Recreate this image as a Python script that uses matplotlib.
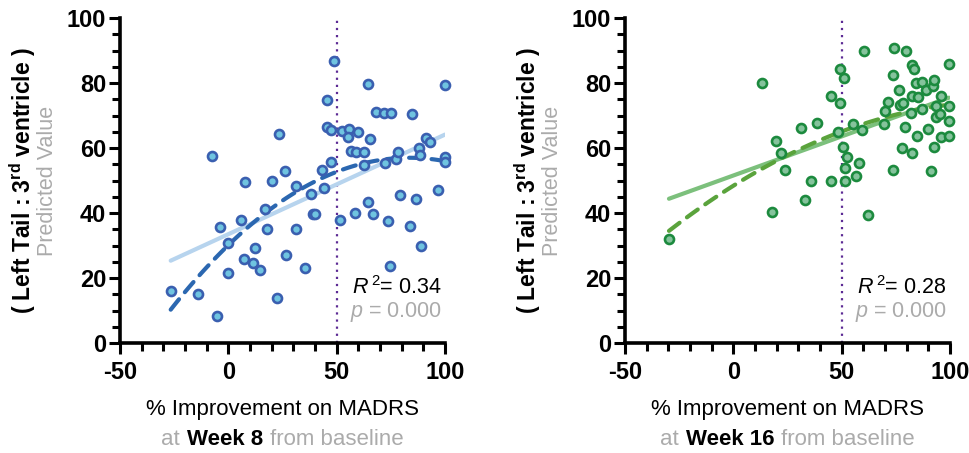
import matplotlib
matplotlib.use("Agg")
import matplotlib.pyplot as plt
import numpy as np
from matplotlib.offsetbox import TextArea, HPacker, AnnotationBbox

plt.rcParams["font.family"] = ["Liberation Sans", "DejaVu Sans"]
plt.rcParams["mathtext.fontset"] = "custom"
plt.rcParams["mathtext.rm"] = "Liberation Sans"
plt.rcParams["mathtext.it"] = "Liberation Sans:italic"
plt.rcParams["mathtext.bf"] = "Liberation Sans:bold"
plt.rcParams["axes.unicode_minus"] = False

# ── Data: week 8 ─────────────────────────────────────────────────────────────
wk8_x = [-26.6, -14.2, -5.3, -7.6, -3.9, 0.0, 0.0, 5.9, 7.9, 7.1, 11.3, 12.5,
         14.8, 16.8, 17.8, 20.1, 22.3, 23.2, 26.1, 26.6, 31.4, 31.4, 35.3,
         38.3, 39.1, 40.2, 43.3, 44.1, 45.6, 45.6, 47.2, 47.6, 48.6, 51.5,
         52.3, 55.6, 55.4, 56.5, 58.8, 60.0, 62.6, 62.6, 64.6, 64.6, 65.2,
         58.6, 66.6, 68.0, 71.9, 75.1, 72.1, 73.5, 74.7, 77.6, 78.1, 79.3,
         84.6, 83.7, 86.7, 87.8, 88.6, 89.1, 91.2, 93.2, 96.6, 100.0, 100.0,
         100.0]
wk8_y = [16.0, 15.0, 8.2, 57.5, 35.6, 30.8, 21.6, 37.9, 49.5, 25.7, 24.7, 29.3,
         22.4, 41.1, 35.0, 50.0, 14.0, 64.4, 53.0, 27.2, 48.4, 35.0, 23.1,
         45.8, 39.7, 39.8, 53.1, 47.6, 74.8, 66.4, 65.6, 55.6, 86.7, 38.0,
         65.1, 65.8, 63.5, 59.2, 58.7, 65.0, 58.9, 54.9, 79.7, 43.3, 62.9,
         39.9, 39.7, 71.2, 70.7, 70.7, 55.5, 37.6, 23.7, 56.5, 58.9, 45.5,
         70.4, 36.0, 44.3, 59.9, 57.9, 29.9, 63.2, 61.7, 47.1, 79.4, 57.1,
         55.6]

# ── Data: week 16 ────────────────────────────────────────────────────────────
wk16_x = [-29.7, 13.1, 18.0, 19.5, 21.8, 23.7, 31.1, 32.9, 36.0, 38.8, 44.9,
          45.1, 48.2, 49.4, 49.4, 51.2, 50.8, 52.5, 51.5, 51.7, 55.2, 56.5,
          58.0, 59.5, 60.3, 62.3, 69.5, 69.8, 71.5, 73.7, 73.7, 74.0, 76.5,
          76.8, 78.3, 78.0, 79.1, 79.5, 82.2, 82.6, 82.6, 83.4, 82.6, 84.5,
          84.9, 85.4, 86.9, 87.2, 89.1, 89.7, 91.4, 92.2, 92.5, 92.5, 93.4,
          93.4, 95.7, 95.4, 96.0, 99.5, 99.5, 99.5, 99.5]
wk16_y = [32.1, 80.0, 40.2, 62.1, 58.5, 53.3, 66.2, 44.1, 49.7, 67.7, 49.7,
          76.1, 64.9, 73.8, 84.3, 81.4, 60.3, 57.1, 53.8, 49.7, 67.4, 51.5,
          55.4, 65.6, 89.7, 39.5, 67.5, 71.3, 74.3, 53.3, 82.6, 90.7, 77.7,
          73.3, 73.8, 60.0, 66.4, 89.7, 70.8, 58.5, 85.4, 84.4, 75.9, 80.0,
          63.8, 75.7, 72.1, 80.2, 77.7, 65.8, 52.8, 79.2, 80.8, 60.3, 72.8,
          69.5, 75.9, 70.6, 63.4, 85.9, 72.8, 68.2, 63.8]

panels = [
    dict(x=wk8_x, y=wk8_y, week="Week 8", r2="0.34",
         face="#6fc4e0", edge="#3a5fb0", lin="#b7d4ee", quad="#2b67b0"),
    dict(x=wk16_x, y=wk16_y, week="Week 16", r2="0.28",
         face="#85c39c", edge="#1c8a3e", lin="#7cc07c", quad="#5aa33c"),
]
axes_left = [120 / 970, 625 / 970]
GREY = "#ababab"

fig = plt.figure(figsize=(9.7, 4.53), dpi=100)

for p, left in zip(panels, axes_left):
    ax = fig.add_axes([left, 110 / 453, 325 / 970, 325 / 453])
    x = np.array(p["x"])
    y = np.array(p["y"])

    # fitted lines (linear = light solid, quadratic = dashed)
    xs = np.linspace(x.min(), x.max(), 100)
    lin = np.polyfit(x, y, 1)
    quad = np.polyfit(x, y, 2)
    ax.plot(xs, np.polyval(lin, xs), color=p["lin"], lw=3, solid_capstyle="round", zorder=2)
    ax.plot(xs, np.polyval(quad, xs), color=p["quad"], lw=3, ls=(0, (3.2, 2.2)),
            dash_capstyle="round", zorder=2)

    ax.axvline(50, color="#5c2a94", lw=1.6, ls=(0, (1, 2.2)), zorder=1)

    ax.scatter(x, y, s=42, facecolor=p["face"], edgecolor=p["edge"], linewidths=1.9,
               zorder=3, clip_on=False)

    ax.set_xlim(-50, 100)
    ax.set_ylim(0, 100)
    ax.set_xticks([-50, 0, 50, 100])
    ax.set_xticks(np.arange(-50, 101, 10), minor=True)
    ax.set_yticks([0, 20, 40, 60, 80, 100])
    ax.set_yticks(np.arange(0, 101, 5), minor=True)
    for s in ["top", "right"]:
        ax.spines[s].set_visible(False)
    for s in ["left", "bottom"]:
        ax.spines[s].set_linewidth(2.6)
    ax.tick_params(which="major", length=8, width=2.2, labelsize=17)
    ax.tick_params(which="minor", length=5.5, width=2.2)
    ax.tick_params(axis="x", which="major", pad=5)
    ax.tick_params(axis="y", which="major", pad=2)
    for lab in ax.get_xticklabels() + ax.get_yticklabels():
        lab.set_fontweight("bold")

    # y label (two lines)
    ax.text(-0.30, 0.5, r"( Left Tail : 3$^{\mathbf{rd}}$ ventricle )", transform=ax.transAxes,
            rotation=90, ha="center", va="center", fontsize=16.5, fontweight="bold")
    ax.text(-0.224, 0.5, "Predicted Value", transform=ax.transAxes, rotation=90,
            ha="center", va="center", fontsize=15.5, color=GREY)

    # x label (two lines)
    ax.text(0.5, -0.206, "% Improvement on MADRS", transform=ax.transAxes,
            ha="center", va="center", fontsize=16)
    parts = HPacker(children=[
        TextArea("at", textprops=dict(fontsize=16, color=GREY)),
        TextArea(p["week"], textprops=dict(fontsize=16, fontweight="bold", color="black")),
        TextArea("from baseline", textprops=dict(fontsize=16, color=GREY)),
    ], pad=0, sep=5, align="baseline")
    ab = AnnotationBbox(parts, (0.5, -0.298), xycoords="axes fraction",
                        box_alignment=(0.5, 0.5), frameon=False, pad=0,
                        annotation_clip=False)
    ax.add_artist(ab)

    # stats
    ax.text(0.99, 0.17, r"$R^{\,2}$= " + p["r2"], transform=ax.transAxes,
            ha="right", va="center", fontsize=15.5)
    ax.text(0.99, 0.095, r"$p$ = 0.000", transform=ax.transAxes,
            ha="right", va="center", fontsize=15.5, color=GREY)

fig.savefig("out.png", dpi=100)
